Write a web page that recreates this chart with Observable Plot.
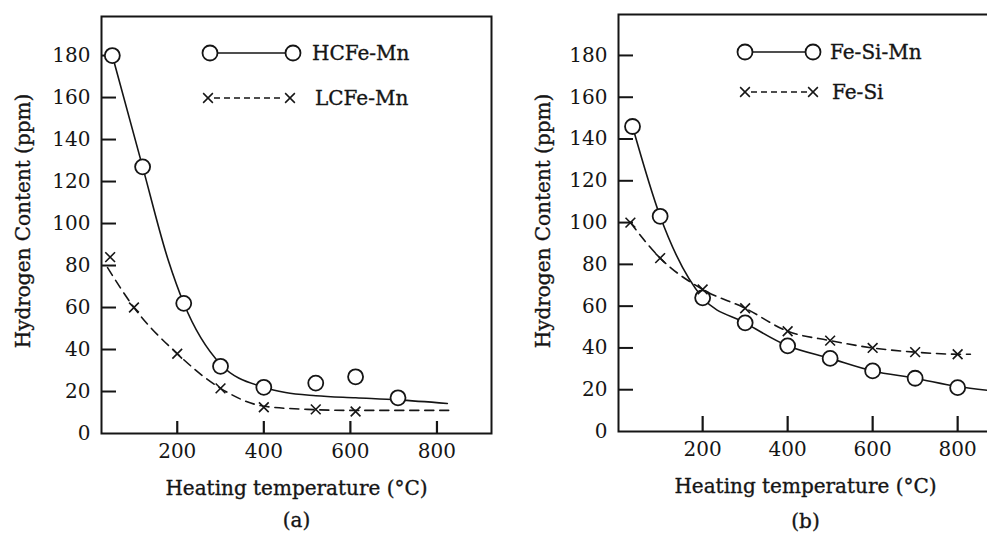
<!DOCTYPE html>
<html><head><meta charset="utf-8">
<script src="https://cdn.jsdelivr.net/npm/d3@7"></script>
<script src="https://cdn.jsdelivr.net/npm/@observablehq/plot@0.6"></script>
<style>
html,body{margin:0;padding:0;background:#fff;}
#wrap{position:relative;width:987px;height:534px;overflow:hidden;background:#fff;}
</style></head><body><div id="wrap"></div>
<script>
// ---------- data ----------
const yTicks = [0, 20, 40, 60, 80, 100, 120, 140, 160, 180];
const xTicks = [200, 400, 600, 800];

// Panel (a)
const hcTemp = [50, 120, 215, 300, 400, 520, 612, 710];
const hcH    = [180, 127, 62, 32, 22, 24, 27, 17];
const lcTemp = [45, 100, 200, 300, 400, 520, 612];
const lcH    = [84, 60, 38, 21.5, 12.5, 11.5, 10.5];
const hcFitTemp = [50, 120, 180, 215, 300, 400, 450, 520, 612, 709, 824];
const hcFitH    = [180, 127, 82, 62, 33, 22, 19.5, 18, 17, 16, 14.3];
const lcFitTemp = [39, 100, 200, 300, 400, 500, 600, 827];
const lcFitH    = [79, 60, 38, 21.5, 13, 11.5, 11, 11];

// Panel (b)
const fsmTemp = [35, 100, 200, 300, 400, 500, 600, 700, 800];
const fsmH    = [146, 103, 64, 52, 41, 35, 29, 25.5, 21];
const fsTemp  = [30, 100, 200, 300, 400, 500, 600, 700, 800];
const fsH     = [100, 83, 68, 59, 48, 43.5, 40, 38, 37];
const fsmFitTemp = [35, 100, 200, 300, 400, 500, 600, 700, 800, 880];
const fsmFitH    = [146, 103, 64, 52, 41, 35, 29, 25.5, 21.5, 19.5];
const fsFitTemp  = [30, 100, 200, 300, 400, 500, 600, 700, 800, 830];
const fsFitH     = [100, 83, 68, 59, 48, 43.5, 40, 38, 37, 37];

const xTitle = "Heating temperature (°C)";
const yTitle = "Hydrogen Content (ppm)";

const zip = (a, b) => a.map((t, i) => ({t, h: b[i]}));
const INK = "#151515";
const FONT = "DejaVu Serif";
const TXT = {fill: INK, stroke: INK, strokeWidth: 0.35};

function panel(o) {
  const svg = Plot.plot({
    width: o.width, height: 534,
    marginLeft: o.mL, marginRight: o.mR, marginTop: o.mT, marginBottom: o.mB,
    style: {fontFamily: FONT, fontSize: "20px", color: INK, background: "transparent", overflow: "visible"},
    x: {domain: o.xDom, label: null},
    y: {domain: o.yDom, label: null},
    marks: [
      Plot.frame({stroke: INK, strokeWidth: 2}),
      // inward tick marks (negative tick size); labels drawn separately outside
      Plot.axisY(yTicks.filter(d => d > 0), {tickSize: -o.yTick, tickPadding: 11 + o.yTick, text: null, stroke: INK, strokeWidth: 2, label: null}),
      Plot.axisX(xTicks, {tickSize: -o.xTick, tickPadding: 10 + o.xTick, text: null, stroke: INK, strokeWidth: 2.2, label: null}),
      Plot.axisY(yTicks, {tickSize: 0, tickPadding: 11, fontSize: 20, label: null, ...TXT}),
      Plot.axisX(xTicks, {tickSize: 0, tickPadding: 10, fontSize: 20, label: null, ...TXT}),
      Plot.line(o.solidFit, {x: d => d.t, y: d => d.h, curve: "monotone-x", stroke: INK, strokeWidth: 1.6}),
      Plot.line(o.dashFit, {x: d => d.t, y: d => d.h, curve: "monotone-x", stroke: INK, strokeWidth: 1.6, strokeDasharray: "9,6"}),
      Plot.dot(o.circles, {x: d => d.t, y: d => d.h, r: 7.5, fill: "white", stroke: INK, strokeWidth: 1.8}),
      Plot.dot(o.crosses, {x: d => d.t, y: d => d.h, symbol: "times", r: 4.5, stroke: INK, strokeWidth: 1.6}),
      Plot.text([xTitle], {text: d => d, frameAnchor: "bottom", dy: o.xtDy, fontSize: 20, ...TXT}),
      Plot.text([o.tag], {text: d => d, frameAnchor: "bottom", dy: o.tagDy, fontSize: 20, ...TXT}),
      Plot.text([yTitle], {text: d => d, frameAnchor: "left", textAnchor: "middle", rotate: -90, dx: o.ytDx, dy: o.ytDy, fontSize: 20, ...TXT})
    ]
  });
  svg.style.position = "absolute";
  svg.style.left = o.left + "px";
  svg.style.top = "0px";
  return svg;
}

const wrap = document.getElementById("wrap");
wrap.appendChild(panel({
  left: 0, width: 500, mL: 101, mR: 9, mT: 16, mB: 101,
  xDom: [25, 926], yDom: [0, 198.6], yTick: 15, xTick: 12,
  solidFit: zip(hcFitTemp, hcFitH), dashFit: zip(lcFitTemp, lcFitH),
  circles: zip(hcTemp, hcH), crosses: zip(lcTemp, lcH),
  xtDy: 61, tagDy: 93, ytDx: -78, ytDy: -4, tag: "(a)"
}));
wrap.appendChild(panel({
  left: 500, width: 500, mL: 118, mR: 8, mT: 14, mB: 103,
  xDom: [2, 882], yDom: [0, 199.6], yTick: 15, xTick: 15,
  solidFit: zip(fsmFitTemp, fsmFitH), dashFit: zip(fsFitTemp, fsFitH),
  circles: zip(fsmTemp, fsmH), crosses: zip(fsTemp, fsH),
  xtDy: 61, tagDy: 96, ytDx: -75, ytDy: -2, tag: "(b)"
}));

// ---------- legends (inside frames) ----------
const legends = [
  {kind: "circle", label: "HCFe-Mn", x1: 210, x2: 293, y: 53, tx: 312},
  {kind: "cross",  label: "LCFe-Mn", x1: 208, x2: 290, y: 98, tx: 315},
  {kind: "circle", label: "Fe-Si-Mn", x1: 745, x2: 813, y: 52, tx: 830},
  {kind: "cross",  label: "Fe-Si", x1: 745, x2: 813, y: 92, tx: 832}
];
const leg = d3.create("svg").attr("width", 987).attr("height", 534)
  .style("position", "absolute").style("left", "0px").style("top", "0px")
  .attr("font-family", FONT).attr("font-size", 20).attr("fill", INK);
const crossPath = d3.symbol(d3.symbolTimes, Math.PI * 4.5 * 4.5)();
for (const l of legends) {
  const g = leg.append("g");
  if (l.kind === "circle") {
    g.append("line").attr("x1", l.x1).attr("x2", l.x2).attr("y1", l.y).attr("y2", l.y)
      .attr("stroke", INK).attr("stroke-width", 1.5);
    for (const x of [l.x1, l.x2]) g.append("circle").attr("cx", x).attr("cy", l.y).attr("r", 7.5)
      .attr("fill", "white").attr("stroke", INK).attr("stroke-width", 1.8);
  } else {
    g.append("line").attr("x1", l.x1 + 6).attr("x2", l.x2 - 6).attr("y1", l.y).attr("y2", l.y)
      .attr("stroke", INK).attr("stroke-width", 1.5).attr("stroke-dasharray", "6,4");
    for (const x of [l.x1, l.x2]) g.append("path").attr("d", crossPath)
      .attr("transform", `translate(${x},${l.y})`).attr("fill", "none").attr("stroke", INK).attr("stroke-width", 1.5);
  }
  g.append("text").attr("x", l.tx).attr("y", l.y).attr("dy", "0.35em")
    .attr("stroke", INK).attr("stroke-width", 0.35).text(l.label);
}
wrap.appendChild(leg.node());
</script></body></html>
